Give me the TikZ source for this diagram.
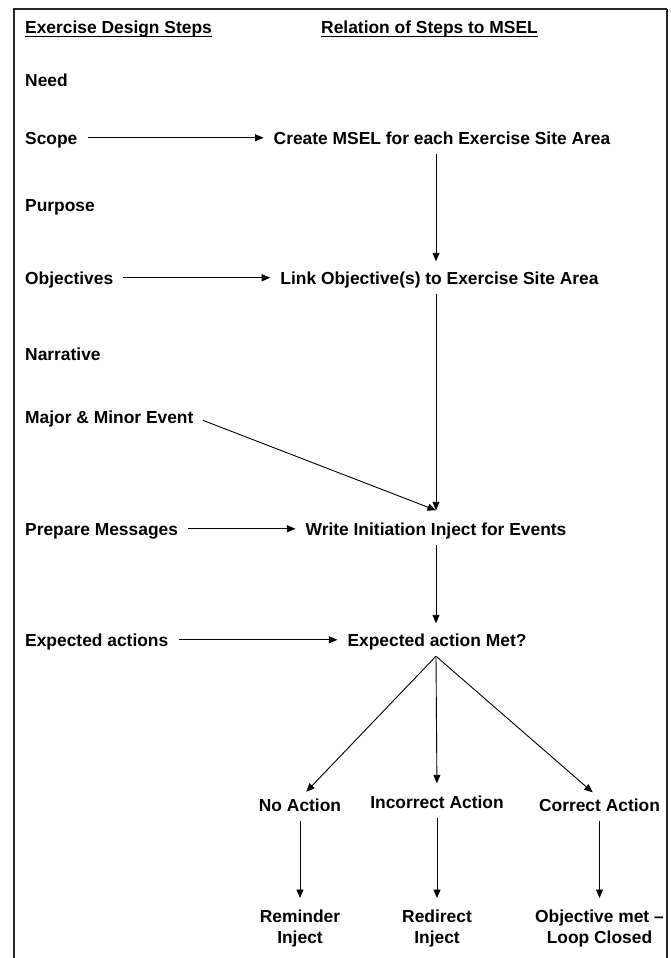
\documentclass[tikz,border=0pt]{standalone}
\usepackage{fontspec}
\setmainfont{Liberation Sans}
\usetikzlibrary{arrows.meta}

\begin{document}
\begin{tikzpicture}[x=1pt, y=-1pt,
    txt/.style={font=\fontsize{17.4}{21}\selectfont\bfseries, inner sep=0pt,
        text height=12.5pt, text depth=0pt, anchor=base},
    lefttxt/.style={txt, anchor=base west},
    twoline/.style={font=\fontsize{17.4}{21}\selectfont\bfseries, inner sep=0pt,
        align=center, anchor=north},
    flow/.style={-{Triangle[length=8.5pt,width=7pt]}, line width=0.9pt,
        shorten <=10pt, shorten >=10pt}]

\useasboundingbox (0,0) rectangle (671,958);

% Frame round the page (its bottom edge is cut off)
\draw[line width=2.6pt, black!85] (14,962) |- (667,9);
\draw[line width=1.6pt, black!85] (667,9) -- (667,962);

% Column headings
\node[lefttxt] (design) at (25,34) {Exercise Design Steps};
\node[txt] (relation) at (429.5,34) {Relation of Steps to MSEL};
\draw[line width=1.2pt] ([yshift=-2.5pt]design.base west) -- ([yshift=-2.5pt]design.base east);
\draw[line width=1.2pt] ([yshift=-2.5pt]relation.base west) -- ([yshift=-2.5pt]relation.base east);

% Exercise design steps (left column)
\node[lefttxt] (need) at (25,86) {Need};
\node[lefttxt] (scope) at (25,144) {Scope};
\node[lefttxt] (purpose) at (25,211) {Purpose};
\node[lefttxt] (objectives) at (25,284) {Objectives};
\node[lefttxt] (narrative) at (25,360) {Narrative};
\node[lefttxt] (events) at (25,423) {Major \& Minor Event};
\node[lefttxt] (messages) at (25,535) {Prepare Messages};
\node[lefttxt] (expected) at (25,646) {Expected actions};

% Relation to the MSEL (right column)
\coordinate (spine) at (436,0);
\node[txt] (create) at (442,144) {Create MSEL for each Exercise Site Area};
\node[txt] (link) at (439.5,284) {Link Objective(s) to Exercise Site Area};
\node[txt] (write) at (436,535) {Write Initiation Inject for Events};
\node[txt] (met) at (437,646) {Expected action Met?};

% Outcomes
\node[txt] (noact) at (300,811) {No Action};
\node[txt] (incorrect) at (437,808) {Incorrect Action};
\node[txt] (correct) at (599.5,811) {Correct Action};
\node[twoline] (reminder) at (300,910) {Reminder\\Inject};
\node[twoline] (redirect) at (437,910) {Redirect\\Inject};
\node[twoline] (closed) at (599.5,910) {Objective met –\\Loop Closed};

% Steps feeding the MSEL
\draw[flow] (scope) -- (create);
\draw[flow] (objectives) -- (link);
\draw[flow] (messages) -- (write);
\draw[flow] (expected) -- (met);

% Main chain
\coordinate (joint) at ([yshift=12pt]write.north -| spine);
\draw[flow] (create.south -| spine) -- (link.north -| spine);
\draw[flow, shorten >=0pt] (link.south -| spine) -- (joint);
\draw[flow, shorten >=0pt] (events.east) -- (joint);
\draw[flow] (write.south -| spine) -- (met.north -| spine);

% Branches from the check
\coordinate (apex) at ([yshift=-10pt]met.south -| spine);
\draw[flow, shorten <=0pt, shorten >=9pt] (apex) -- (noact.north);
\draw[flow, shorten <=0pt, shorten >=12pt] (apex) -- (incorrect.north);
\draw[flow, shorten <=0pt, shorten >=9pt] (apex) -- (correct.north);
\draw[flow, shorten >=12pt] (noact.south) -- (reminder.north);
\draw[flow, shorten >=12pt] (incorrect.south) -- (redirect.north);
\draw[flow, shorten >=12pt] (correct.south) -- (closed.north);

\end{tikzpicture}
\end{document}
